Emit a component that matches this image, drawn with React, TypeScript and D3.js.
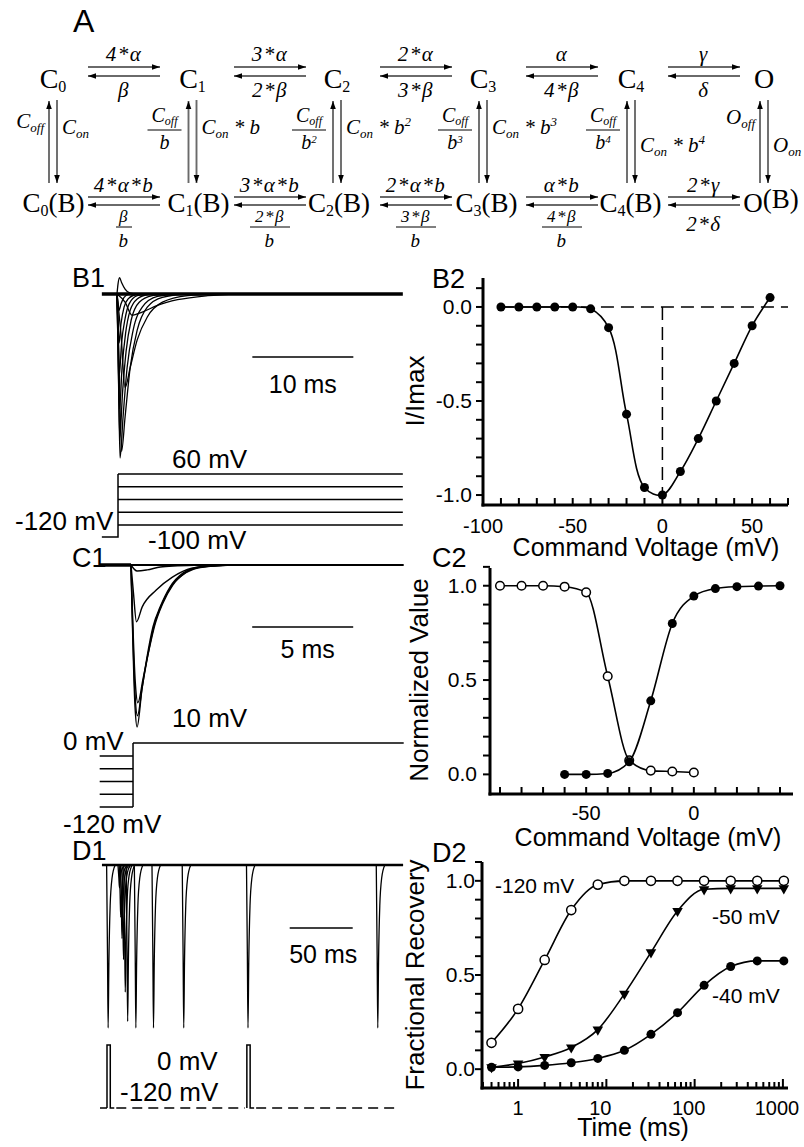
import React from 'react';
import * as d3 from 'd3';

const SANS = "'Liberation Sans', Arial, Helvetica, sans-serif";
const SERIF = "'Liberation Serif', 'Times New Roman', Times, serif";

type Pt = [number, number];

// ---------- A: kinetic scheme ----------
const stateBase = ['C', 'C', 'C', 'C', 'C', 'O'];
const stateSub = ['0', '1', '2', '3', '4', ''];
const fwdTop = ['4*α', '3*α', '2*α', 'α', 'γ'];
const bwdTop = ['β', '2*β', '3*β', '4*β', 'δ'];
const fwdBottom = ['4*α*b', '3*α*b', '2*α*b', 'α*b', '2*γ'];
const bwdBottomNum = ['β', '2*β', '3*β', '4*β', '2*δ'];
const bwdBottomDen = ['b', 'b', 'b', 'b', ''];
const vertLetter = ['C', 'C', 'C', 'C', 'C', 'O'];
const offPower: (string | null)[] = [null, '', '2', '3', '4', null];
const onPower: (string | null)[] = [null, '', '2', '3', '4', null];

// ---------- B1: currents (ms, I/Imax) ----------
const b1Voltages = [60, 50, 40, 30, 20, 10, 0, -10, -20, -30];
const b1Traces: Pt[][] = [
  [[0, 0], [0.1, 0.06], [0.25, 0.1], [0.45, 0.07], [0.8, 0.03], [1.3, 0.005], [2, 0]],
  [[0, 0], [0.1, -0.05], [0.2, -0.1], [0.4, -0.06], [0.7, -0.02], [1.2, 0]],
  [[0, 0], [0.1, -0.15], [0.2, -0.3], [0.4, -0.18], [0.7, -0.08], [1.1, -0.03], [2, 0]],
  [[0, 0], [0.12, -0.25], [0.22, -0.5], [0.45, -0.3], [0.8, -0.15], [1.2, -0.06], [2, -0.01], [3, 0]],
  [[0, 0], [0.12, -0.35], [0.25, -0.7], [0.5, -0.45], [0.85, -0.24], [1.3, -0.1], [2, -0.03], [3.2, 0]],
  [[0, 0], [0.13, -0.45], [0.27, -0.875], [0.55, -0.6], [0.9, -0.35], [1.4, -0.16], [2.2, -0.05], [3.5, -0.01], [5, 0]],
  [[0, 0], [0.15, -0.5], [0.3, -1.0], [0.6, -0.75], [1.0, -0.45], [1.6, -0.22], [2.5, -0.08], [4, -0.015], [6, 0]],
  [[0, 0], [0.2, -0.4], [0.45, -0.96], [0.8, -0.75], [1.3, -0.45], [2.0, -0.22], [3.0, -0.08], [4.5, -0.02], [7, 0]],
  [[0, 0], [0.4, -0.25], [0.8, -0.57], [1.3, -0.45], [2.0, -0.28], [3.0, -0.14], [4.5, -0.05], [7, -0.01], [10, 0]],
  [[0, 0], [0.8, -0.05], [1.5, -0.13], [2.5, -0.11], [4, -0.07], [6, -0.035], [9, -0.01], [12, 0]],
];
const b1Steps = [60, 20, -20, -60, -100];

// ---------- B2: I-V ----------
const b2Voltage = [-90, -80, -70, -60, -50, -40, -30, -20, -10, 0, 10, 20, 30, 40, 50, 60];
const b2Current = [0, 0, 0, 0, 0, -0.01, -0.11, -0.57, -0.96, -1.0, -0.875, -0.7, -0.5, -0.3, -0.1, 0.05];
const b2YTicks = [0, -0.5, -1];
const b2YLabels = ['0.0', '-0.5', '-1.0'];
const b2XTicks = [-100, -50, 0, 50];
const b2XLabels = ['-100', '-50', '0', '50'];

// ---------- C1: currents after prepulses ----------
const c1Traces: Pt[][] = [
  [[0, 0], [0.2, -0.877], [0.3, -1.0], [0.54, -0.77], [0.79, -0.57], [1.09, -0.38], [1.44, -0.26], [1.93, -0.136], [2.57, -0.05], [3.42, -0.012], [5.05, 0]],
  [[0, 0], [0.2, -0.8], [0.32, -0.93], [0.56, -0.75], [0.83, -0.56], [1.13, -0.38], [1.5, -0.25], [2.0, -0.13], [2.65, -0.05], [3.5, -0.012], [5.2, 0]],
  [[0, 0], [0.21, -0.72], [0.34, -0.85], [0.6, -0.7], [0.88, -0.53], [1.18, -0.37], [1.56, -0.24], [2.06, -0.125], [2.72, -0.048], [3.6, -0.012], [5.3, 0]],
  [[0, 0], [0.12, -0.17], [0.27, -0.35], [0.55, -0.26], [1.25, -0.155], [2.05, -0.075], [3.0, -0.02], [4.5, 0]],
  [[0, 0], [0.3, -0.037], [0.8, -0.03], [1.45, -0.012], [2.3, -0.005], [3.5, 0]],
];
const c1Prepulses = [0, -30, -60, -90, -120];
const c1Test = 10;

// ---------- C2: activation / inactivation ----------
const c2InactV = [-90, -80, -70, -60, -50, -40, -30, -20, -10, 0];
const c2Inact = [1.0, 1.0, 1.0, 0.995, 0.965, 0.52, 0.075, 0.02, 0.015, 0.01];
const c2ActV = [-60, -50, -40, -30, -20, -10, 0, 10, 20, 30, 40];
const c2Act = [0.0, 0.0, 0.005, 0.067, 0.39, 0.8, 0.945, 0.985, 0.995, 0.998, 1.0];
const c2YTicks = [1, 0.5, 0];
const c2YLabels = ['1.0', '0.5', '0.0'];
const c2XTicks = [-50, 0];
const c2XLabels = ['-50', '0'];

// ---------- D1: paired pulses ----------
const d1Times = [0, 9, 10, 11, 12.2, 13.6, 15.5, 22, 36, 60, 111, 214];
const d1Amps = [1, 0.14, 0.32, 0.45, 0.58, 0.78, 0.96, 1, 1, 1, 1, 1];
const spikeShape: Pt[] = [[-0.3, 0], [0.4, -0.55], [0.9, -1], [1.5, -0.6], [2.5, -0.25], [4, -0.08], [6.5, 0]];
const d1Pulses = [0, 111];
const d1PulseDur = 2.6;

// ---------- D2: recovery ----------
const d2Time = [0.5, 1, 2, 4, 8, 16, 32, 64, 128, 256, 512, 1024];
const d2Rec120 = [0.14, 0.32, 0.58, 0.845, 0.98, 1.0, 1.0, 1.0, 1.0, 1.0, 1.0, 1.0];
const d2Rec50 = [0.01, 0.03, 0.065, 0.115, 0.21, 0.4, 0.62, 0.84, 0.955, 0.96, 0.96, 0.96];
const d2Rec40 = [0.01, 0.012, 0.02, 0.034, 0.057, 0.1, 0.185, 0.3, 0.445, 0.545, 0.575, 0.575];
const d2YTicks = [1, 0.5, 0];
const d2YLabels = ['1.0', '0.5', '0.0'];
const d2XTicks = [1, 10, 100, 1000];
const d2XLabels = ['1', '10', '100', '1000'];

const lbl = { fontFamily: SERIF, fontStyle: 'italic' as const, fontSize: 21, letterSpacing: 1.5 };

function Scheme() {
  const colX = [53, 192.5, 337, 483, 631, 764];
  const botX = [53.5, 198.5, 339, 486.5, 630.5, 771];
  const arrowX = [124, 270, 416, 562, 704];
  const H = 36;
  const shaft = { stroke: '#6a6a6a', strokeWidth: 1.9, markerEnd: 'url(#ah)' };
  const rightY = [134, 134, 134, 134, 152, 152];
  return (
    <g>
      <text x={73} y={32} fontFamily={SANS} fontSize={32}>A</text>
      {stateBase.map((s, i) => (
        <text key={'ts' + i} x={colX[i]} y={88} textAnchor="middle" fontFamily={SERIF} fontSize={28}>
          {s}<tspan fontSize={16} dy={4}>{stateSub[i]}</tspan>
        </text>
      ))}
      {stateBase.map((s, i) => (
        <text key={'bs' + i} x={botX[i]} y={212} textAnchor="middle" fontFamily={SERIF} fontSize={27}>
          {s}<tspan fontSize={16} dy={4}>{stateSub[i]}</tspan><tspan dy={-4}>(B)</tspan>
        </text>
      ))}
      {arrowX.map((cx, i) => (
        <g key={'ar' + i}>
          <line x1={cx - H} x2={cx + H} y1={67} y2={67} {...shaft} />
          <line x1={cx + H} x2={cx - H} y1={76} y2={76} {...shaft} />
          <text x={cx} y={61} textAnchor="middle" {...lbl}>{fwdTop[i]}</text>
          <text x={cx} y={97} textAnchor="middle" {...lbl}>{bwdTop[i]}</text>
          <line x1={cx - H} x2={cx + H} y1={197} y2={197} {...shaft} />
          <line x1={cx + H} x2={cx - H} y1={205} y2={205} {...shaft} />
          <text x={cx} y={192} textAnchor="middle" {...lbl}>{fwdBottom[i]}</text>
          {bwdBottomDen[i] ? (
            <g>
              <text x={cx} y={222} textAnchor="middle" {...lbl} fontSize={17}>{bwdBottomNum[i]}</text>
              <line x1={cx - bwdBottomNum[i].length * 6 - 2} x2={cx + bwdBottomNum[i].length * 6 + 2} y1={227} y2={227} stroke="#000" strokeWidth={1} />
              <text x={cx} y={247} textAnchor="middle" {...lbl} fontSize={19}>{bwdBottomDen[i]}</text>
            </g>
          ) : (
            <text x={cx} y={231} textAnchor="middle" {...lbl}>{bwdBottomNum[i]}</text>
          )}
        </g>
      ))}
      {colX.map((cx, i) => (
        <g key={'v' + i}>
          <line x1={cx - 4} x2={cx - 4} y1={183} y2={101} {...shaft} />
          <line x1={cx + 4} x2={cx + 4} y1={100} y2={183} {...shaft} />
          {offPower[i] === null ? (
            <text x={cx - 9} y={i === 5 ? 124 : 128} textAnchor="end" {...lbl} letterSpacing={0}>
              {vertLetter[i]}<tspan fontSize={13} dy={4}>off</tspan>
            </text>
          ) : (
            <g>
              <text x={cx - 28} y={122} textAnchor="middle" {...lbl} fontSize={20} letterSpacing={0}>
                {vertLetter[i]}<tspan fontSize={12} dy={3}>off</tspan>
              </text>
              <line x1={cx - 45} x2={cx - 11} y1={130} y2={130} stroke="#000" strokeWidth={1} />
              <text x={cx - 28} y={149} textAnchor="middle" {...lbl} fontSize={20} letterSpacing={0}>
                b{offPower[i] ? <tspan fontSize={11} dy={-6}>{offPower[i]}</tspan> : null}
              </text>
            </g>
          )}
          <text x={cx + 9} y={rightY[i]} {...lbl} letterSpacing={0}>
            {vertLetter[i]}<tspan fontSize={13} dy={4}>on</tspan>
            {onPower[i] !== null ? <tspan dy={-4}> * b</tspan> : null}
            {onPower[i] ? <tspan fontSize={13} dy={-8}>{onPower[i]}</tspan> : null}
          </text>
        </g>
      ))}
    </g>
  );
}

function PanelB1() {
  const x = d3.scaleLinear().domain([0, 10]).range([117, 218]);
  const y = d3.scaleLinear().domain([-1, 0]).range([458, 294]);
  const v = d3.scaleLinear().domain([-120, -100, 60]).range([537, 525, 474]);
  const line = d3.line<Pt>().x(d => x(d[0])).y(d => y(d[1])).curve(d3.curveMonotoneX);
  const stepX = x(0.1);
  return (
    <g>
      <text x={72} y={287} fontSize={27}>B1</text>
      <line x1={x(-1.5)} x2={x(28.3)} y1={y(0)} y2={y(0)} stroke="#000" strokeWidth={3.5} />
      {b1Traces.map((t, i) => (
        <path key={b1Voltages[i]} d={line(t) || ''} fill="none" stroke="#000" strokeWidth={1.3} />
      ))}
      <line x1={x(13.4)} x2={x(23.4)} y1={357} y2={357} stroke="#000" strokeWidth={1.5} />
      <text x={x(18.4)} y={393} textAnchor="middle" fontSize={25}>10 ms</text>
      <path d={`M${x(-1.5)},${v(-120)}H${stepX}V${v(60)}`} fill="none" stroke="#000" strokeWidth={1.5} />
      {b1Steps.map(s => (
        <line key={s} x1={stepX} x2={x(28.3)} y1={v(s)} y2={v(s)} stroke="#000" strokeWidth={1.5} />
      ))}
      <text x={172} y={468} fontSize={26}>60 mV</text>
      <text x={15} y={530} fontSize={26}>-120 mV</text>
      <text x={148} y={549} fontSize={26}>-100 mV</text>
    </g>
  );
}

function PanelB2() {
  const x = d3.scaleLinear().domain([-100, 70]).range([483, 788]);
  const y = d3.scaleLinear().domain([-1.053, 0.154]).range([505, 278]);
  const pts: Pt[] = b2Voltage.map((vv, i) => [x(vv), y(b2Current[i])]);
  const curve = d3.line().curve(d3.curveCatmullRom.alpha(0.5));
  const yMinor = d3.range(-10, 2).map(k => k / 10);
  const xMinor = d3.range(-90, 71, 10);
  return (
    <g>
      <text x={432} y={288} fontSize={27}>B2</text>
      <line x1={x(-90)} x2={x(70)} y1={y(0)} y2={y(0)} stroke="#000" strokeWidth={1.5} strokeDasharray="13,7" />
      <line x1={x(0)} x2={x(0)} y1={y(0)} y2={y(-1)} stroke="#000" strokeWidth={1.5} strokeDasharray="13,7" />
      <path d={curve(pts) || ''} fill="none" stroke="#000" strokeWidth={1.6} />
      {pts.map((p, i) => <circle key={i} cx={p[0]} cy={p[1]} r={4.5} fill="#000" />)}
      <line x1={483} x2={483} y1={278} y2={506.5} stroke="#000" strokeWidth={3} />
      <line x1={481.5} x2={788} y1={505} y2={505} stroke="#000" strokeWidth={3} />
      {yMinor.map(t => <line key={t} x1={476} x2={483} y1={y(t)} y2={y(t)} stroke="#000" strokeWidth={2} />)}
      {xMinor.map(t => <line key={t} x1={x(t)} x2={x(t)} y1={505} y2={498} stroke="#000" strokeWidth={2} />)}
      {b2YTicks.map((t, i) => <text key={t} x={472} y={y(t) + 7} textAnchor="end" fontSize={21}>{b2YLabels[i]}</text>)}
      {b2XTicks.map((t, i) => <text key={t} x={x(t)} y={533} textAnchor="middle" fontSize={20}>{b2XLabels[i]}</text>)}
      <text x={646} y={556} textAnchor="middle" fontSize={25}>Command Voltage (mV)</text>
      <text transform="translate(424,391) rotate(-90)" textAnchor="middle" fontSize={26}>I/Imax</text>
    </g>
  );
}

function PanelC1() {
  const x = d3.scaleLinear().domain([0, 5]).range([131, 232]);
  const y = d3.scaleLinear().domain([-1, 0]).range([727, 565]);
  const v = d3.scaleLinear().domain([-120, 0, 10]).range([807, 756, 743]);
  const line = d3.line<Pt>().x(d => x(d[0])).y(d => y(d[1])).curve(d3.curveMonotoneX);
  const stepX = x(0.1);
  return (
    <g>
      <text x={72} y={567} fontSize={27}>C1</text>
      <line x1={x(-1.55)} x2={x(0)} y1={y(0)} y2={y(0)} stroke="#000" strokeWidth={3.5} />
      <line x1={x(0)} x2={x(13.5)} y1={y(0)} y2={y(0)} stroke="#000" strokeWidth={1.8} />
      {c1Traces.map((t, i) => (
        <path key={i} d={line(t) || ''} fill="none" stroke="#000" strokeWidth={1.4} />
      ))}
      <line x1={x(6)} x2={x(11)} y1={627} y2={627} stroke="#000" strokeWidth={1.5} />
      <text x={x(8.5) + 5} y={658} textAnchor="middle" fontSize={25}>5 ms</text>
      <line x1={stepX} x2={x(13.5)} y1={v(c1Test)} y2={v(c1Test)} stroke="#000" strokeWidth={1.5} />
      <line x1={stepX} x2={stepX} y1={v(c1Test)} y2={v(-120)} stroke="#000" strokeWidth={1.5} />
      {c1Prepulses.map(p => (
        <line key={p} x1={x(-1.55)} x2={stepX} y1={v(p)} y2={v(p)} stroke="#000" strokeWidth={1.5} />
      ))}
      <text x={172} y={727} fontSize={26}>10 mV</text>
      <text x={63} y={750} fontSize={26}>0 mV</text>
      <text x={63} y={833} fontSize={26}>-120 mV</text>
    </g>
  );
}

function PanelC2() {
  const x = d3.scaleLinear().domain([-90, 40]).range([500, 780]);
  const y = d3.scaleLinear().domain([-0.104, 1.094]).range([794, 568]);
  const line = d3.line().curve(d3.curveMonotoneX);
  const inact: Pt[] = c2InactV.map((vv, i) => [x(vv), y(c2Inact[i])]);
  const act: Pt[] = c2ActV.map((vv, i) => [x(vv), y(c2Act[i])]);
  const yMinor = d3.range(0, 12).map(k => k / 10);
  const xMinor = d3.range(-90, 41, 10);
  return (
    <g>
      <text x={432} y={567} fontSize={27}>C2</text>
      <path d={line(inact) || ''} fill="none" stroke="#000" strokeWidth={1.6} />
      <path d={line(act) || ''} fill="none" stroke="#000" strokeWidth={1.6} />
      {act.map((p, i) => <circle key={'a' + i} cx={p[0]} cy={p[1]} r={4.5} fill="#000" />)}
      {inact.map((p, i) => <circle key={'i' + i} cx={p[0]} cy={p[1]} r={4.3} fill="#fff" fillOpacity={c2InactV[i] === -30 ? 0 : 1} stroke="#000" strokeWidth={1.5} />)}
      <line x1={490} x2={490} y1={568} y2={795.5} stroke="#000" strokeWidth={3} />
      <line x1={488.5} x2={793} y1={794} y2={794} stroke="#000" strokeWidth={3} />
      {yMinor.map(t => <line key={t} x1={483} x2={490} y1={y(t)} y2={y(t)} stroke="#000" strokeWidth={2} />)}
      {xMinor.map(t => <line key={t} x1={x(t)} x2={x(t)} y1={794} y2={787} stroke="#000" strokeWidth={2} />)}
      {c2YTicks.map((t, i) => <text key={t} x={477} y={y(t) + 7} textAnchor="end" fontSize={21}>{c2YLabels[i]}</text>)}
      {c2XTicks.map((t, i) => <text key={t} x={x(t)} y={820} textAnchor="middle" fontSize={20}>{c2XLabels[i]}</text>)}
      <text x={648} y={846} textAnchor="middle" fontSize={25}>Command Voltage (mV)</text>
      <text transform="translate(428,680) rotate(-90)" textAnchor="middle" fontSize={26}>Normalized Value</text>
    </g>
  );
}

function PanelD1() {
  const x = d3.scaleLinear().domain([0, 50]).range([107, 170]);
  const y = d3.scaleLinear().domain([-1, 0]).range([1028, 865]);
  const v = d3.scaleLinear().domain([-120, 0]).range([1108, 1045]);
  const line = d3.line<Pt>().x(d => x(d[0])).y(d => y(d[1])).curve(d3.curveMonotoneX);
  const tEnd = x.invert(400);
  return (
    <g>
      <text x={72} y={860} fontSize={27}>D1</text>
      <line x1={x(-4)} x2={x(235)} y1={y(0)} y2={y(0)} stroke="#000" strokeWidth={2.5} />
      {d1Times.map((t, i) => (
        <path key={i} d={line(spikeShape.map(s => [t + s[0], s[1] * d1Amps[i]] as Pt)) || ''} fill="none" stroke="#000" strokeWidth={1.3} />
      ))}
      <line x1={x(145)} x2={x(195)} y1={928} y2={928} stroke="#000" strokeWidth={1.5} />
      <text x={x(170) + 2} y={963} textAnchor="middle" fontSize={25}>50 ms</text>
      <line x1={100} x2={x(d1Pulses[0])} y1={v(-120)} y2={v(-120)} stroke="#000" strokeWidth={1.5} />
      {d1Pulses.map(p => (
        <path key={p} d={`M${x(p)},${v(-120)}V${v(0)}H${x(p + d1PulseDur)}V${v(-120)}h4`} fill="none" stroke="#000" strokeWidth={1.5} />
      ))}
      <line x1={x(d1Pulses[0] + d1PulseDur) + 6} x2={x(d1Pulses[1]) - 2} y1={v(-120)} y2={v(-120)} stroke="#000" strokeWidth={1.5} strokeDasharray="10,6" />
      <line x1={x(d1Pulses[1] + d1PulseDur) + 6} x2={x(tEnd)} y1={v(-120)} y2={v(-120)} stroke="#000" strokeWidth={1.5} strokeDasharray="10,6" />
      <text x={157} y={1070} fontSize={26}>0 mV</text>
      <text x={120} y={1101} fontSize={26}>-120 mV</text>
    </g>
  );
}

function PanelD2() {
  const x = d3.scaleLog().domain([0.39, 1142]).range([482, 788]);
  const y = d3.scaleLinear().domain([-0.1, 1.1]).range([1088, 862]);
  const line = d3.line().curve(d3.curveMonotoneX);
  const s120: Pt[] = d2Time.map((t, i) => [x(t), y(d2Rec120[i])]);
  const s50: Pt[] = d2Time.map((t, i) => [x(t), y(d2Rec50[i])]);
  const s40: Pt[] = d2Time.map((t, i) => [x(t), y(d2Rec40[i])]);
  const yMinor = d3.range(0, 12).map(k => k / 10);
  const decades = [0.1, 1, 10, 100, 1000];
  const xMinor: { v: number; major: boolean }[] = [];
  decades.forEach(dc => d3.range(1, 10).forEach(m => {
    const val = dc * m;
    if (val >= 0.4 && val <= 1142) xMinor.push({ v: val, major: m === 1 });
  }));
  const tri = d3.symbol(d3.symbolTriangle, 48)() || '';
  return (
    <g>
      <text x={432} y={862} fontSize={27}>D2</text>
      <path d={line(s120) || ''} fill="none" stroke="#000" strokeWidth={1.6} />
      <path d={line(s50) || ''} fill="none" stroke="#000" strokeWidth={1.6} />
      <path d={line(s40) || ''} fill="none" stroke="#000" strokeWidth={1.6} />
      {s40.map((p, i) => <circle key={'f' + i} cx={p[0]} cy={p[1]} r={4.5} fill="#000" />)}
      {s50.map((p, i) => <path key={'t' + i} d={tri} transform={`translate(${p[0]},${p[1]}) rotate(180)`} fill="#000" />)}
      {s120.map((p, i) => <circle key={'o' + i} cx={p[0]} cy={p[1]} r={4.6} fill="#fff" stroke="#000" strokeWidth={1.5} />)}
      <line x1={482} x2={482} y1={862} y2={1089.5} stroke="#000" strokeWidth={3} />
      <line x1={480.5} x2={788} y1={1088} y2={1088} stroke="#000" strokeWidth={3} />
      {yMinor.map(t => <line key={t} x1={475} x2={482} y1={y(t)} y2={y(t)} stroke="#000" strokeWidth={2} />)}
      {xMinor.map(t => <line key={t.v} x1={x(t.v)} x2={x(t.v)} y1={1088} y2={t.major ? 1079 : 1082} stroke="#000" strokeWidth={2} />)}
      {d2YTicks.map((t, i) => <text key={t} x={475} y={y(t) + 7} textAnchor="end" fontSize={21}>{d2YLabels[i]}</text>)}
      {d2XTicks.map((t, i) => <text key={t} x={x(t) - (i === 0 ? 0 : 6)} y={1115} textAnchor="middle" fontSize={20}>{d2XLabels[i]}</text>)}
      <text x={633} y={1136} textAnchor="middle" fontSize={25}>Time (ms)</text>
      <text transform="translate(424,975) rotate(-90)" textAnchor="middle" fontSize={26}>Fractional Recovery</text>
      <text x={495} y={893} fontSize={21}>-120 mV</text>
      <text x={712} y={924} fontSize={21}>-50 mV</text>
      <text x={712} y={1003} fontSize={21}>-40 mV</text>
    </g>
  );
}

export default function App() {
  return (
    <svg width={804} height={1147} viewBox="0 0 804 1147" fontFamily={SANS}
      style={{ position: 'absolute', left: 0, top: 0, background: '#fff' }}>
      <defs>
        <marker id="ah" viewBox="0 0 10 10" refX={10} refY={5} markerWidth={8} markerHeight={8}
          orient="auto" markerUnits="userSpaceOnUse">
          <path d="M0,1.5 L10,5 L0,8.5 Z" fill="#000" />
        </marker>
      </defs>
      <rect width={804} height={1147} fill="#fff" />
      <Scheme />
      <PanelB1 />
      <PanelB2 />
      <PanelC1 />
      <PanelC2 />
      <PanelD1 />
      <PanelD2 />
    </svg>
  );
}
